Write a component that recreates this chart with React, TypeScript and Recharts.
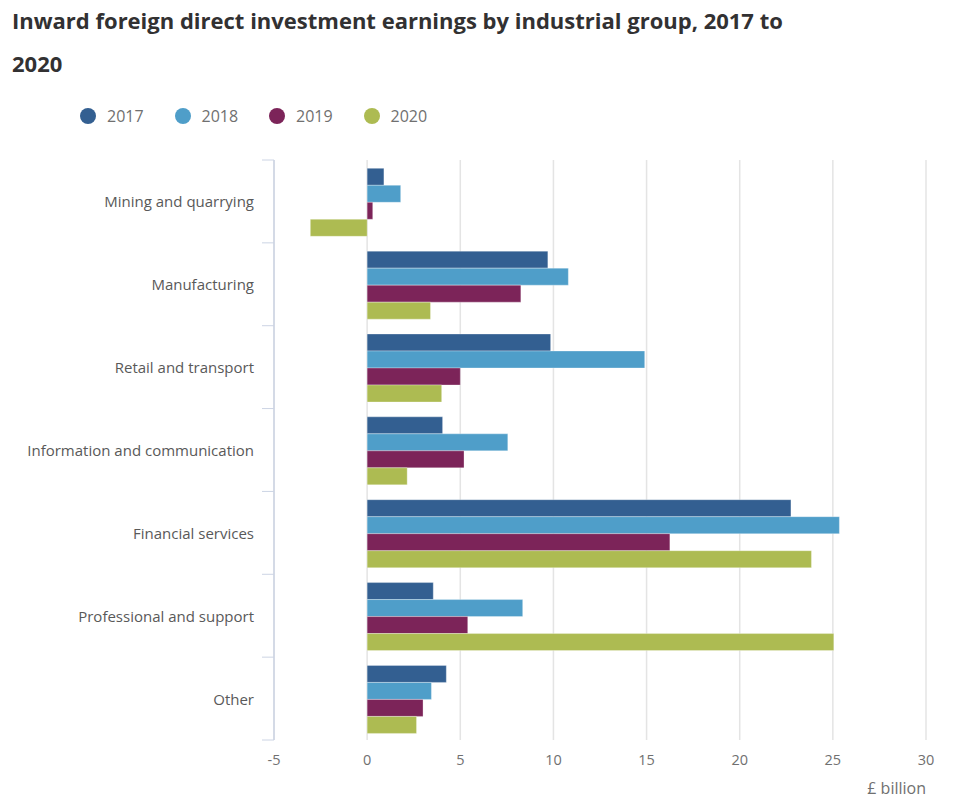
import React from 'react'
import { Bar, BarChart, XAxis, YAxis, CartesianGrid } from 'recharts'

const categories = [
  'Mining and quarrying',
  'Manufacturing',
  'Retail and transport',
  'Information and communication',
  'Financial services',
  'Professional and support',
  'Other',
]

const years = ['2017', '2018', '2019', '2020']
const values2017 = [0.9, 9.7, 9.85, 4.05, 22.75, 3.55, 4.25]
const values2018 = [1.8, 10.8, 14.9, 7.55, 25.35, 8.35, 3.45]
const values2019 = [0.3, 8.25, 5.0, 5.2, 16.25, 5.4, 3.0]
const values2020 = [-3.05, 3.4, 4.0, 2.15, 23.85, 25.05, 2.65]
const xTicks = [-5, 0, 5, 10, 15, 20, 25, 30]

const colors = ['#335f91', '#4f9ec9', '#7c2459', '#adbb52']

const data = categories.map((name, i) => ({
  name,
  y2017: values2017[i],
  y2018: values2018[i],
  y2019: values2019[i],
  y2020: values2020[i],
}))

const font = '"Open Sans", sans-serif'

function CategoryTick(props: any) {
  const { x, y, payload, index, visibleTicksCount } = props
  const half = payload && payload.offset ? payload.offset : 580 / 7 / 2
  const axisX = x + 20
  const last = index === (visibleTicksCount ?? categories.length) - 1
  return (
    <g>
      <line x1={axisX - 12} x2={axisX} y1={y - half} y2={y - half} stroke="#ccd4e4" strokeWidth={1} />
      {last && (
        <line x1={axisX - 12} x2={axisX} y1={y + half} y2={y + half} stroke="#ccd4e4" strokeWidth={1} />
      )}
      <text x={x} y={y} dy={6} textAnchor="end" fill="#595959" fontSize={15} fontFamily={font}>
        {payload.value}
      </text>
    </g>
  )
}

export default function App() {
  return (
    <div style={{ position: 'absolute', left: 0, top: 0, width: 960, height: 812, background: '#fff', fontFamily: font }}>
      <div
        style={{
          position: 'absolute',
          left: 12,
          top: -1,
          fontSize: 22,
          fontWeight: 700,
          lineHeight: '43px',
          color: '#323132',
        }}
      >
        Inward foreign direct investment earnings by industrial group, 2017 to
        <br />
        2020
      </div>
      <div style={{ position: 'absolute', left: 80, top: 104, display: 'flex', height: 24, alignItems: 'center' }}>
        {years.map((yr, i) => (
          <div key={yr} style={{ display: 'flex', alignItems: 'center', width: 94.5 }}>
            <span
              style={{
                display: 'inline-block',
                width: 16,
                height: 16,
                borderRadius: 8,
                background: colors[i],
                marginRight: 11,
              }}
            />
            <span style={{ fontSize: 16, color: '#707070' }}>{yr}</span>
          </div>
        ))}
      </div>
      <div style={{ position: 'absolute', left: 0, top: 0 }}>
        <BarChart
          width={960}
          height={812}
          data={data}
          layout="vertical"
          margin={{ top: 160, right: 34, left: 0, bottom: 18 }}
          barCategoryGap="10%"
          barGap={0}
        >
          <CartesianGrid horizontal={false} vertical stroke="#e4e4e4" strokeWidth={1.5} />
          <XAxis
            type="number"
            domain={[-5, 30]}
            ticks={xTicks}
            interval={0}
            axisLine={false}
            tickLine={false}
            tickMargin={9}
            height={54}
            tick={{ fill: '#707070', fontSize: 14.5, fontFamily: font }}
            label={{
              value: '£ billion',
              position: 'insideBottomRight',
              offset: 0,
              fill: '#707070',
              fontSize: 16,
              fontFamily: font,
            }}
          />
          <YAxis
            type="category"
            dataKey="name"
            width={274}
            axisLine={{ stroke: '#ccd4e4', strokeWidth: 1.5 }}
            tickLine={false}
            tickSize={12}
            tickMargin={8}
            interval={0}
            tick={<CategoryTick />}
          />
          <Bar dataKey="y2017" name="2017" fill={colors[0]} stroke="#ffffff" strokeOpacity={0.3} isAnimationActive={false} />
          <Bar dataKey="y2018" name="2018" fill={colors[1]} stroke="#ffffff" strokeOpacity={0.3} isAnimationActive={false} />
          <Bar dataKey="y2019" name="2019" fill={colors[2]} stroke="#ffffff" strokeOpacity={0.3} isAnimationActive={false} />
          <Bar dataKey="y2020" name="2020" fill={colors[3]} stroke="#ffffff" strokeOpacity={0.3} isAnimationActive={false} />
        </BarChart>
      </div>
    </div>
  )
}
